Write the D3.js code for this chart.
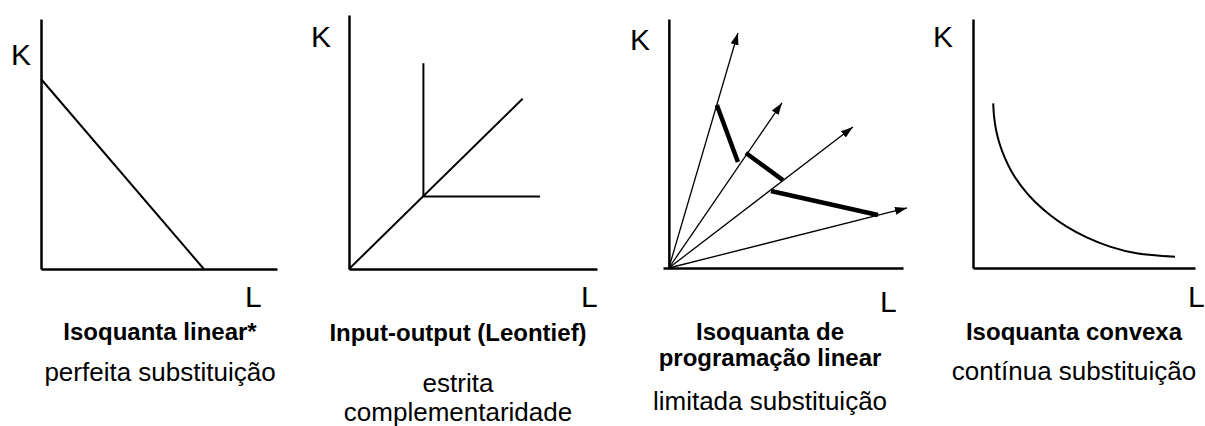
<!DOCTYPE html>
<html>
<head>
<meta charset="utf-8">
<script src="https://cdnjs.cloudflare.com/ajax/libs/d3/7.8.5/d3.min.js"></script>
<style>
  body { margin: 0; background: #fff; }
  svg text { font-family: "Liberation Sans", Arial, sans-serif; fill: #000; }
</style>
</head>
<body>
<div id="chart"></div>
<script>
// dados (unidades arbitrárias, eixos 0..10)
const linearIsoquant = [[0, 7.6], [6.9, 0]];
const leontiefRay = [[0, 0], [7.0, 6.7]];
const leontiefCorner = [[3.0, 8.1], [3.0, 2.85], [7.7, 2.85]];
const lpRays = [[2.95, 9.44], [4.83, 6.63], [7.86, 5.66], [10.17, 2.41]];
const lpSegments = [
  [[2.05, 6.55], [2.95, 4.26]],
  [[3.29, 4.62], [4.87, 3.53]],
  [[4.36, 3.09], [8.93, 2.13]]
];
const convexIsoquant = [
  [0.91, 6.61], [0.95, 6.08], [1.04, 5.54], [1.19, 5.01], [1.44, 4.41],
  [1.74, 3.87], [2.19, 3.27], [2.79, 2.66], [3.47, 2.13], [4.22, 1.66],
  [5.12, 1.23], [6.17, 0.86], [7.37, 0.59], [9.1, 0.45]
];
const titles = [
  ["Isoquanta linear*"],
  ["Input-output (Leontief)"],
  ["Isoquanta de", "programação linear"],
  ["Isoquanta convexa"]
];
const subtitles = [
  ["perfeita substituição"],
  ["estrita", "complementaridade"],
  ["limitada substituição"],
  ["contínua substituição"]
];

// layout de cada painel (pixels)
const panels = [
  { x0: 41, x1: 277, xmin: 0, yb: 269, yt: 19, kx: 11, ky: 65, lx: 245, ly: 307, cx: 160, tY: 340, sY: [381] },
  { x0: 349, x1: 597, xmin: 0, yb: 269, yt: 15, kx: 311, ky: 47, lx: 581, ly: 307, cx: 458, tY: 341, sY: [392, 421] },
  { x0: 663, x1: 903, xmin: -0.25, yb: 268, yt: 19, kx: 630, ky: 50, lx: 880, ly: 312, cx: 770, tY: 340, sY: [410] },
  { x0: 973, x1: 1195, xmin: 0, yb: 268, yt: 19, kx: 933, ky: 47, lx: 1188, ly: 307, cx: 1074, tY: 340, sY: [380] }
];

const W = 1205, H = 426;
const svg = d3.select("#chart").append("svg")
  .attr("width", W).attr("height", H);

svg.append("defs").append("marker")
  .attr("id", "arrow")
  .attr("markerUnits", "userSpaceOnUse")
  .attr("viewBox", "0 -5 12 10")
  .attr("refX", 12).attr("refY", 0)
  .attr("markerWidth", 12).attr("markerHeight", 10)
  .attr("orient", "auto")
  .append("path")
  .attr("d", "M0,-4L12,0L0,4Z")
  .attr("fill", "#000");

const line = d3.line();

panels.forEach((p, i) => {
  const x = d3.scaleLinear().domain([p.xmin, 10]).range([p.x0, p.x1]);
  const y = d3.scaleLinear().domain([0, 10]).range([p.yb, p.yt]);
  const g = svg.append("g");
  line.x(d => x(d[0])).y(d => y(d[1])).curve(d3.curveLinear);

  // eixos sem marcas
  g.append("g")
    .attr("transform", `translate(0,${p.yb})`)
    .call(d3.axisBottom(x).tickValues([]).tickSizeOuter(0));
  g.append("g")
    .attr("transform", `translate(${x(0)},0)`)
    .call(d3.axisLeft(y).tickValues([]).tickSizeOuter(0));
  g.selectAll(".domain").attr("stroke", "#000").attr("stroke-width", 2.5);

  const plot = g.append("g")
    .attr("fill", "none").attr("stroke", "#000");

  if (i === 0) {
    plot.append("path").attr("d", line(linearIsoquant)).attr("stroke-width", 2);
  } else if (i === 1) {
    plot.append("path").attr("d", line(leontiefRay)).attr("stroke-width", 2);
    plot.append("path").attr("d", line(leontiefCorner)).attr("stroke-width", 2);
  } else if (i === 2) {
    plot.selectAll(".ray").data(lpRays).join("path")
      .attr("class", "ray")
      .attr("d", d => line([[0, 0], d]))
      .attr("stroke-width", 1.3)
      .attr("marker-end", "url(#arrow)");
    plot.selectAll(".seg").data(lpSegments).join("path")
      .attr("class", "seg")
      .attr("d", d => line(d))
      .attr("stroke-width", 4.5);
  } else {
    line.curve(d3.curveCatmullRom);
    plot.append("path").attr("d", line(convexIsoquant)).attr("stroke-width", 2);
  }

  g.append("text").attr("x", p.kx).attr("y", p.ky)
    .attr("font-size", 30).text("K");
  g.append("text").attr("x", p.lx).attr("y", p.ly)
    .attr("font-size", 30).text("L");

  g.selectAll(".title").data(titles[i]).join("text")
    .attr("class", "title")
    .attr("x", p.cx)
    .attr("y", (d, j) => p.tY + j * 26)
    .attr("text-anchor", "middle")
    .attr("font-size", 24).attr("font-weight", "bold")
    .text(d => d);

  g.selectAll(".sub").data(subtitles[i]).join("text")
    .attr("class", "sub")
    .attr("x", p.cx)
    .attr("y", (d, j) => p.sY[j])
    .attr("text-anchor", "middle")
    .attr("font-size", 26)
    .text(d => d);
});
</script>
</body>
</html>
